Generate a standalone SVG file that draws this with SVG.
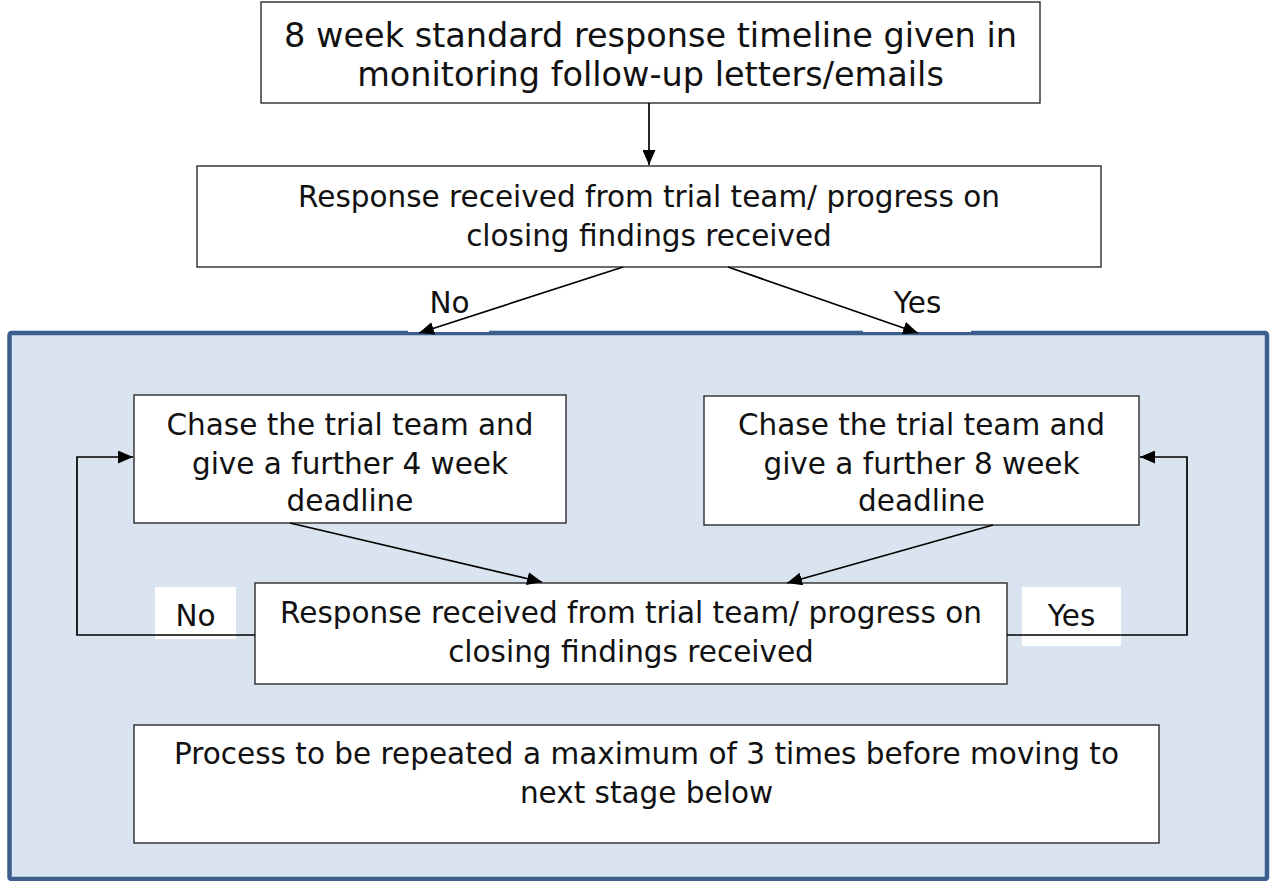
<svg xmlns="http://www.w3.org/2000/svg" width="1270" height="881" viewBox="0 0 1270 881">
  <style>
    .box { fill: #ffffff; stroke: #2b2b2b; stroke-width: 1.4; }
    .txt { font-family: "DejaVu Sans", Verdana, sans-serif; font-size: 29.5px; fill: #111111; text-anchor: middle; }
    .big { font-size: 33.5px; }
    .con { fill: none; stroke: #000000; stroke-width: 1.7; }
    .lblbg { fill: #ffffff; stroke: none; }
  </style>
  <defs>
    <marker id="arrow" viewBox="0 0 15 13" refX="15" refY="6.5" markerWidth="15" markerHeight="13" markerUnits="userSpaceOnUse" orient="auto">
      <path d="M0,0 L15,6.5 L0,13 Z" fill="#000000"/>
    </marker>
  </defs>

  <rect width="1270" height="881" fill="#ffffff"/>

  <!-- shaded repeat-cycle panel -->
  <g id="cycle-panel">
    <rect x="9.5" y="333" width="1257.5" height="546" rx="2" fill="#dae3f0" stroke="#3b5e8c" stroke-width="4.5"/>
  </g>

  <!-- label backgrounds -->
  <g id="label-backgrounds">
    <rect class="lblbg" x="408" y="290" width="81" height="42"/>
    <rect class="lblbg" x="863" y="290" width="108" height="42"/>
    <rect class="lblbg" x="155" y="587" width="81" height="52"/>
    <rect class="lblbg" x="1022" y="587" width="99" height="59"/>
  </g>

  <g id="n-standard-timeline">
    <rect class="box" x="261" y="2" width="779" height="101"/>
    <text class="txt big" x="650.5" y="47">8 week standard response timeline given in</text>
    <text class="txt big" x="650.5" y="86">monitoring follow-up letters/emails</text>
  </g>

  <g id="n-response-first">
    <rect class="box" x="197" y="166" width="904" height="101"/>
    <text class="txt" x="649" y="207">Response received from trial team/ progress on</text>
    <text class="txt" x="649" y="246">closing findings received</text>
  </g>

  <g id="n-chase-4-week">
    <rect class="box" x="134" y="395" width="432" height="128"/>
    <text class="txt" x="350" y="435">Chase the trial team and</text>
    <text class="txt" x="350" y="474">give a further 4 week</text>
    <text class="txt" x="350" y="511">deadline</text>
  </g>

  <g id="n-chase-8-week">
    <rect class="box" x="704" y="396" width="435" height="129"/>
    <text class="txt" x="921.5" y="435">Chase the trial team and</text>
    <text class="txt" x="921.5" y="474">give a further 8 week</text>
    <text class="txt" x="921.5" y="511">deadline</text>
  </g>

  <g id="n-response-repeat">
    <rect class="box" x="255" y="583" width="752" height="101"/>
    <text class="txt" x="631" y="623">Response received from trial team/ progress on</text>
    <text class="txt" x="631" y="662">closing findings received</text>
  </g>

  <g id="n-repeat-limit">
    <rect class="box" x="134" y="725" width="1025" height="118"/>
    <text class="txt" x="646.5" y="764">Process to be repeated a maximum of 3 times before moving to</text>
    <text class="txt" x="646.5" y="803">next stage below</text>
  </g>

  <g id="connectors">
    <line class="con" x1="649" y1="103" x2="649" y2="165" marker-end="url(#arrow)"/>
    <line class="con" x1="623" y1="267" x2="419" y2="333" marker-end="url(#arrow)"/>
    <line class="con" x1="728" y1="267" x2="918" y2="333" marker-end="url(#arrow)"/>
    <line class="con" x1="290" y1="523" x2="542" y2="582" marker-end="url(#arrow)"/>
    <line class="con" x1="993" y1="525" x2="787" y2="583" marker-end="url(#arrow)"/>
    <path class="con" d="M255,635 H77 V457 H133" marker-end="url(#arrow)"/>
    <path class="con" d="M1007,635 H1187 V457 H1140" marker-end="url(#arrow)"/>
  </g>

  <g id="labels">
    <text class="txt" x="449.5" y="313">No</text>
    <text class="txt" x="917.5" y="313">Yes</text>
    <text class="txt" x="195.5" y="626">No</text>
    <text class="txt" x="1071.5" y="626">Yes</text>
  </g>
</svg>
